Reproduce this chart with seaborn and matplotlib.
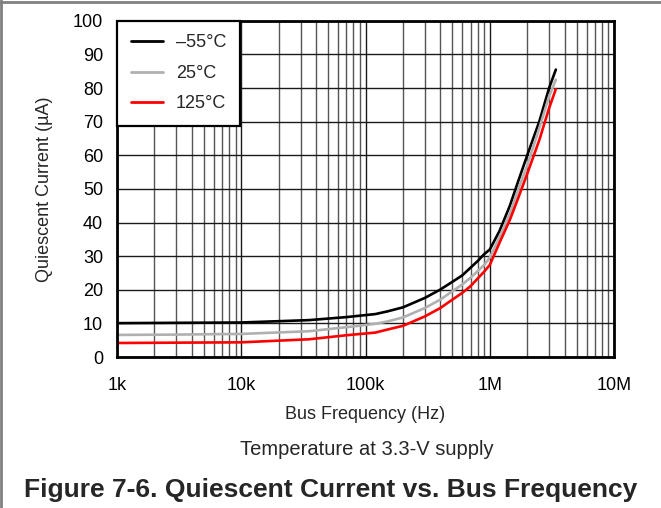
import matplotlib
matplotlib.use('Agg')
import matplotlib.pyplot as plt
import matplotlib.ticker as mticker
from matplotlib.lines import Line2D
import seaborn as sns
import pandas as pd

# Bus frequency (Hz) and quiescent current (uA)
freq = [1e3, 3e3, 1e4, 3.5e4, 7e4, 1.2e5, 1.5e5, 2e5, 3e5, 4e5, 5e5, 6e5, 7e5, 8e5, 9e5,
        1e6, 1.2e6, 1.45e6, 1.7e6, 2e6, 2.5e6, 3e6, 3.4e6]
i_m55 = [10.1, 10.2, 10.3, 11.0, 11.9, 12.8, 13.6, 14.8, 17.6, 20.1, 22.4, 24.3, 26.6, 28.6, 30.6,
         32.0, 37.6, 45.0, 52.5, 60.0, 70.0, 80.0, 85.5]
i_25 = [6.6, 6.7, 6.9, 7.7, 8.9, 9.9, 10.6, 11.8, 14.6, 17.1, 19.6, 21.6, 23.6, 25.6, 27.4,
        29.6, 35.8, 42.6, 50.0, 57.0, 68.0, 77.5, 82.5]
i_125 = [4.2, 4.3, 4.4, 5.3, 6.5, 7.3, 8.2, 9.3, 12.1, 14.6, 17.1, 19.1, 21.1, 23.4, 25.4,
         27.4, 34.1, 40.8, 47.5, 54.5, 64.5, 74.0, 79.7]
temps = ['\u201355°C', '25°C', '125°C']
colors = ['black', '#b0b0b0', 'red']

df = pd.DataFrame({
    'Frequency': freq * 3,
    'Current': i_m55 + i_25 + i_125,
    'Temp': [temps[0]] * len(freq) + [temps[1]] * len(freq) + [temps[2]] * len(freq),
})

sns.set_style('white')
plt.rcParams['font.family'] = ['Liberation Sans', 'DejaVu Sans']

fig = plt.figure(figsize=(6.61, 5.08), dpi=100)
ax = fig.add_axes([0.177, 0.297, 0.752, 0.662])

sns.lineplot(data=df, x='Frequency', y='Current', hue='Temp', hue_order=temps,
             palette=colors, linewidth=1.9, ax=ax, sort=True)

ax.set_xscale('log')
ax.set_xlim(1e3, 1e7)
ax.set_ylim(0, 100)
ax.set_yticks(range(0, 101, 10))
ax.set_xticks([1e3, 1e4, 1e5, 1e6, 1e7])
ax.set_xticklabels(['1k', '10k', '100k', '1M', '10M'])
ax.xaxis.set_minor_locator(mticker.LogLocator(base=10, subs=range(2, 10)))
ax.xaxis.set_minor_formatter(mticker.NullFormatter())
ax.grid(which='major', color='#1a1a1a', linewidth=1.0)
ax.grid(which='minor', axis='x', color='#555555', linewidth=1.0)
ax.set_axisbelow(True)
ax.tick_params(which='both', length=0, labelsize=13, colors='black')
ax.tick_params(axis='x', pad=14)
ax.tick_params(axis='y', pad=10)
for s in ax.spines.values():
    s.set_color('black')
    s.set_linewidth(2.0)

ax.set_xlabel('Bus Frequency (Hz)', fontsize=13, labelpad=9)
ax.set_ylabel('Quiescent Current (µA)', fontsize=13, labelpad=14)

leg = ax.legend(loc='upper left', borderaxespad=0, fontsize=13, handlelength=1.8,
                labelspacing=0.75, frameon=True, fancybox=False, framealpha=1,
                borderpad=0.75, handletextpad=0.7)
leg.get_frame().set_edgecolor('black')
leg.get_frame().set_linewidth(1.6)
for h in leg.get_lines():
    h.set_linewidth(2.0)

fig.text(0.555, 0.116, 'Temperature at 3.3-V supply', ha='center', va='center', fontsize=14.5)
fig.text(0.5, 0.035, 'Figure 7-6. Quiescent Current vs. Bus Frequency', ha='center',
         va='center', fontsize=19, fontweight='bold')

# page frame lines
fig.add_artist(Line2D([0, 1], [0.996, 0.996], color='#808080', linewidth=2, transform=fig.transFigure))
fig.add_artist(Line2D([0.002, 0.002], [0, 1], color='#808080', linewidth=2, transform=fig.transFigure))

fig.savefig('out.png', dpi=100)
